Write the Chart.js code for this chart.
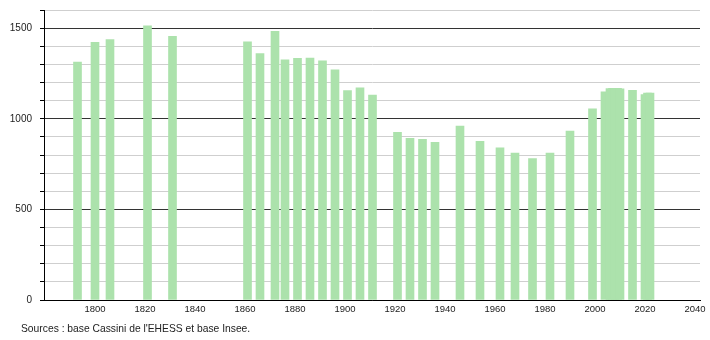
<!DOCTYPE html>
<html>
<head>
<meta charset="utf-8">
<script src="https://cdn.jsdelivr.net/npm/chart.js@4/dist/chart.umd.min.js"></script>
<style>
  body { margin: 0; background: #fff; }
  #wrap { position: relative; width: 710px; height: 340px; }
  #source { position: absolute; left: 21px; top: 323px; font: 10.3px "Liberation Sans", Arial, sans-serif; color: #222; }
</style>
</head>
<body>
<div id="wrap">
  <canvas id="popChart" width="710" height="340"></canvas>
  <div id="source">Sources : base Cassini de l'EHESS et base Insee.</div>
</div>
<script>
// années de recensement et population
const years = [1793, 1800, 1806, 1821, 1831, 1861, 1866, 1872, 1876, 1881, 1886, 1891, 1896,
    1901, 1906, 1911, 1921, 1926, 1931, 1936, 1946, 1954, 1962, 1968, 1975, 1982, 1990, 1999,
    2004, 2006, 2007, 2008, 2009, 2010, 2015, 2020, 2021, 2022];
const population = [1312, 1422, 1437, 1512, 1455, 1425, 1360, 1482, 1325, 1333, 1335, 1320, 1270,
    1155, 1170, 1130, 925, 892, 887, 870, 960, 876, 840, 810, 780, 810, 932, 1055,
    1148, 1166, 1168, 1168, 1168, 1165, 1157, 1134, 1142, 1142];
const xTicks = [1800, 1820, 1840, 1860, 1880, 1900, 1920, 1940, 1960, 1980, 2000, 2020, 2040];
const yLabels = [0, 500, 1000, 1500];

document.addEventListener("DOMContentLoaded", function () {
    const ctx = document.getElementById('popChart').getContext('2d');
    const family = '"Liberation Sans", Arial, sans-serif';

    new Chart(ctx, {
        type: 'bar',
        data: {
            datasets: [{
                data: years.map((y, i) => ({ x: y, y: population[i] })),
                backgroundColor: 'rgb(172, 226, 172)',
                barThickness: 8,
                grouped: false
            }]
        },
        options: {
            responsive: false,
            animation: false,
            layout: { padding: { top: 10, right: 10, left: 0, bottom: 0 } },
            plugins: {
                legend: { display: false },
                tooltip: { enabled: false }
            },
            scales: {
                x: {
                    type: 'linear',
                    min: 1779.6,
                    max: 2042,
                    offset: false,
                    afterBuildTicks: axis => { axis.ticks = xTicks.map(v => ({ value: v })); },
                    afterFit: axis => { axis.height = 40; axis.paddingLeft = 0; axis.paddingRight = 0; },
                    grid: { display: false, drawTicks: false },
                    border: { color: '#000', width: 1 },
                    ticks: {
                        color: '#222',
                        font: { family: family, size: 9.5 },
                        padding: 4,
                        maxRotation: 0,
                        callback: v => String(v)
                    }
                },
                y: {
                    min: 0,
                    max: 1600,
                    afterFit: axis => { axis.width = 44; axis.paddingTop = 0; axis.paddingBottom = 0; },
                    grid: {
                        color: c => (c.tick && c.tick.value % 500 === 0) ? '#333' : '#cfcfcf',
                        tickColor: '#000',
                        tickLength: 4
                    },
                    border: { color: '#000', width: 1 },
                    ticks: {
                        stepSize: 100,
                        color: '#222',
                        font: { family: family, size: 10 },
                        padding: 8,
                        autoSkip: false,
                        callback: v => yLabels.includes(v) ? String(v) : ''
                    }
                }
            }
        }
    });
});
</script>
</body>
</html>
